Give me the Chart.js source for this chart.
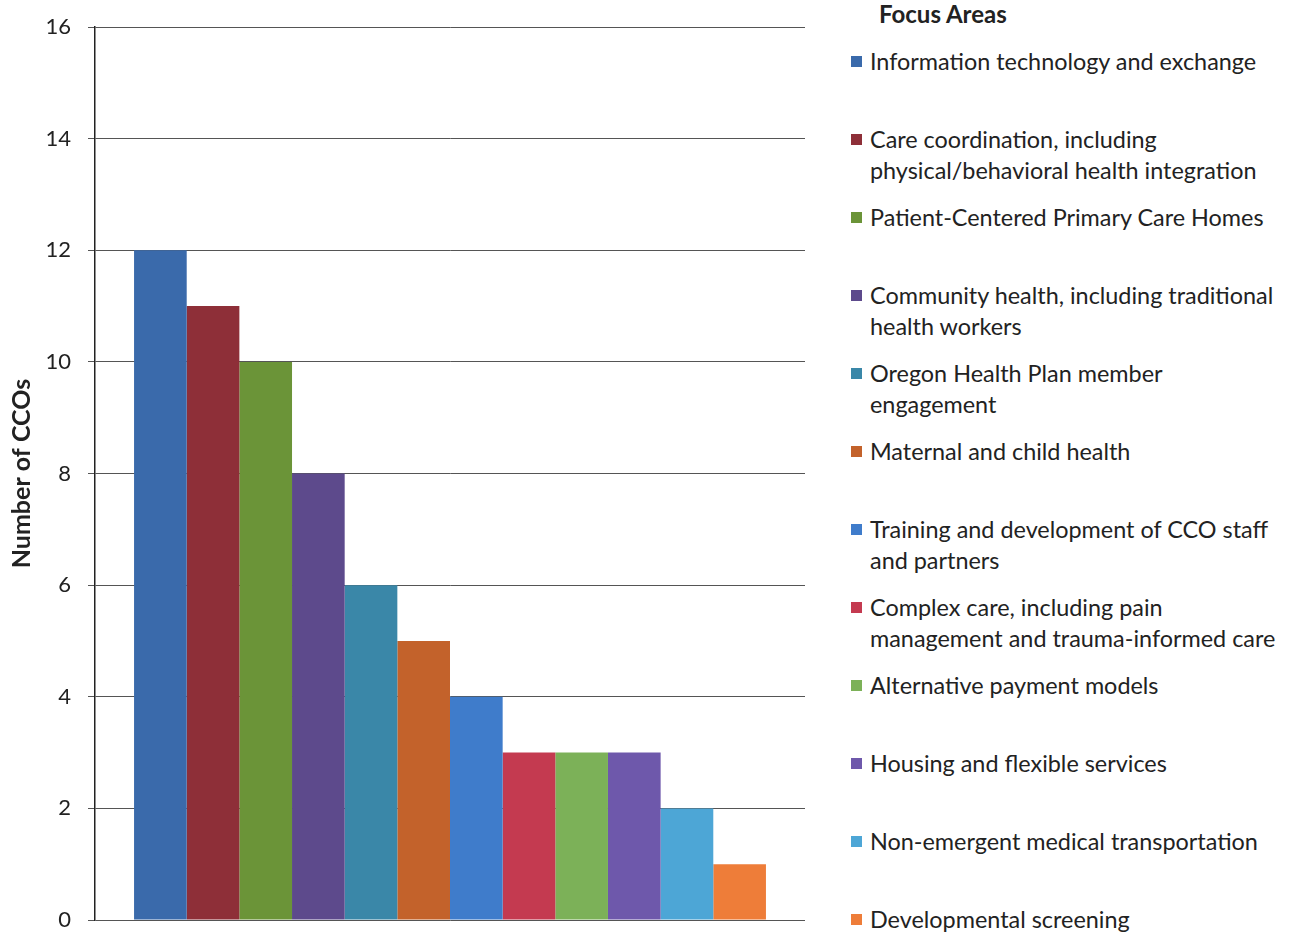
<!DOCTYPE html>
<html>
<head>
<meta charset="utf-8">
<script src="https://cdn.jsdelivr.net/npm/chart.js@4/dist/chart.umd.min.js"></script>
<style>
  html, body { margin: 0; padding: 0; background: #ffffff; }
  body { width: 1294px; height: 935px; position: relative; overflow: hidden; font-family: Lato, "Open Sans", sans-serif; color: #222; }
  #chartBox { position: absolute; left: 0; top: 0; width: 840px; height: 935px; }
  #legend { position: absolute; left: 849px; top: 0; width: 445px; height: 935px; }
  #legend .title { position: absolute; left: 30px; top: 0; font-weight: bold; font-size: 24px; line-height: 28px; }
  #legend .item { position: absolute; left: 0; font-size: 23.4px; line-height: 31px; white-space: nowrap; }
  #legend .swatch { position: absolute; left: 2px; top: 10px; width: 11px; height: 11px; }
  #legend .text { position: absolute; left: 21px; top: 0; }
</style>
</head>
<body>
<div id="chartBox"><canvas id="chart" width="840" height="935"></canvas></div>
<div id="legend"></div>
<script>
// Focus areas named by CCOs in their transformation plans
const focusAreas = [
  ['Information technology and exchange'],
  ['Care coordination, including', 'physical/behavioral health integration'],
  ['Patient-Centered Primary Care Homes'],
  ['Community health, including traditional', 'health workers'],
  ['Oregon Health Plan member', 'engagement'],
  ['Maternal and child health'],
  ['Training and development of CCO staff', 'and partners'],
  ['Complex care, including pain', 'management and trauma-informed care'],
  ['Alternative payment models'],
  ['Housing and flexible services'],
  ['Non-emergent medical transportation'],
  ['Developmental screening']
];
// Number of CCOs working on each area
const ccoCounts = [12, 11, 10, 8, 6, 5, 4, 3, 3, 3, 2, 1];
const yTickValues = [0, 2, 4, 6, 8, 10, 12, 14, 16];

const barColors = [
  '#3a6aab', '#8e2f38', '#6b9438', '#5d4a8c', '#3a87a8', '#c3622b',
  '#3f7ccb', '#c43a50', '#7cb158', '#6e58ab', '#4da6d6', '#ee7d39'
];

const FONT = 'Lato, "Open Sans", sans-serif';

const datasets = focusAreas.map((lines, i) => ({
  label: lines.join(' '),
  data: [ccoCounts[i]],
  backgroundColor: barColors[i],
  borderWidth: 0,
  barPercentage: 1.0,
  categoryPercentage: 0.89
}));

const chart = new Chart(document.getElementById('chart'), {
  type: 'bar',
  data: { labels: [''], datasets },
  options: {
    responsive: false,
    animation: false,
    layout: { padding: { left: 3, right: 35, top: 27, bottom: 15 } },
    plugins: { legend: { display: false }, tooltip: { enabled: false } },
    scales: {
      x: { display: false },
      y: {
        min: 0,
        max: 16,
        afterBuildTicks: (scale) => { scale.ticks = yTickValues.map(v => ({ value: v })); },
        afterFit: (scale) => {
          scale.width = 92;
          // the outer layout padding already leaves room for the end labels
          scale.paddingTop = 0;
          scale.paddingBottom = 0;
        },
        ticks: { color: '#222', font: { family: FONT, size: 22 }, padding: 17 },
        grid: { color: '#555', lineWidth: 1, tickLength: 7, drawTicks: true },
        border: { display: true, color: '#222', width: 1.5 },
        title: {
          display: true,
          text: 'Number of CCOs',
          color: '#222',
          font: { family: FONT, size: 25, weight: 'bold' },
          padding: { top: 4, bottom: 4 }
        }
      }
    }
  }
});

// Legend listing the focus areas, one fixed slot per entry
const legend = document.getElementById('legend');
const title = document.createElement('div');
title.className = 'title';
title.textContent = 'Focus Areas';
legend.appendChild(title);
chart.data.datasets.forEach((ds, i) => {
  const item = document.createElement('div');
  item.className = 'item';
  item.style.top = (46 + 78 * i) + 'px';
  const sw = document.createElement('div');
  sw.className = 'swatch';
  sw.style.background = ds.backgroundColor;
  const tx = document.createElement('div');
  tx.className = 'text';
  tx.innerHTML = focusAreas[i].map(s => s.replace(/&/g, '&amp;')).join('<br>');
  item.appendChild(sw);
  item.appendChild(tx);
  legend.appendChild(item);
});
</script>
</body>
</html>
